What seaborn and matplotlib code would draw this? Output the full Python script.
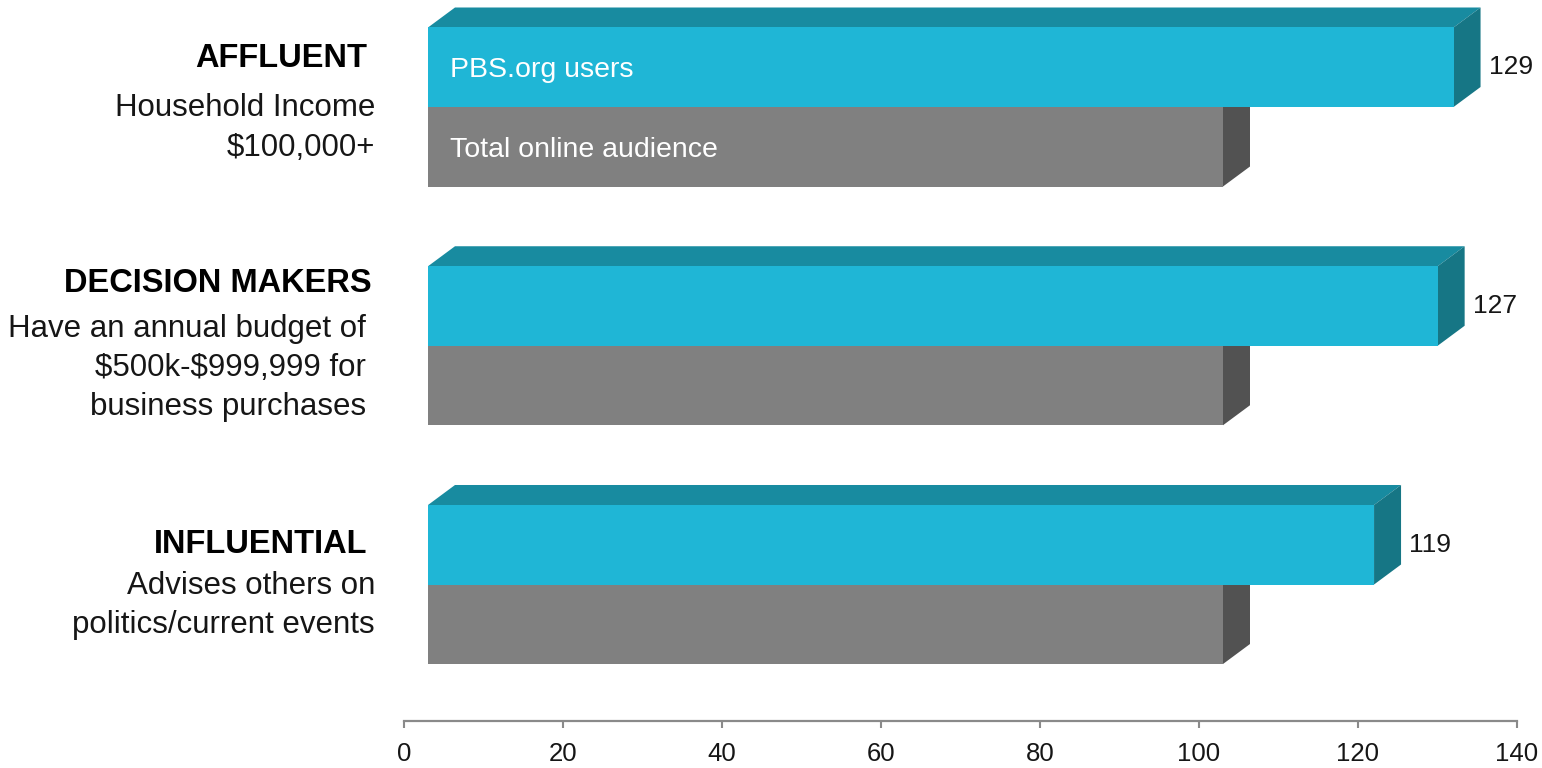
import matplotlib
matplotlib.use("Agg")
import matplotlib.pyplot as plt
import seaborn as sns
import pandas as pd
from matplotlib.patches import Polygon
from matplotlib.colors import to_rgba

# ---- data -------------------------------------------------------------
segments = ["AFFLUENT", "DECISION MAKERS", "INFLUENTIAL"]
segment_notes = [
    ["Household Income", "$100,000+"],
    ["Have an annual budget of", "$500k-$999,999 for", "business purchases"],
    ["Advises others on", "politics/current events"],
]
series = ["PBS.org users", "Total online audience"]
pbs_index = [129, 127, 119]
total_index = [100, 100, 100]
x_ticks = [0, 20, 40, 60, 80, 100, 120, 140]

# ---- style ------------------------------------------------------------
CYAN, CYAN_TOP, CYAN_SIDE = "#1FB6D6", "#188BA0", "#167685"
GRAY, GRAY_TOP, GRAY_SIDE = "#808080", "#6a6a6a", "#525252"
AXIS_GRAY = "#8a8a8a"
TEXT = "#161616"

sns.set_theme(style="ticks")
plt.rcParams["font.family"] = ["Liberation Sans", "DejaVu Sans"]

W, H = 1542, 768
fig = plt.figure(figsize=(W / 100, H / 100), dpi=100)
# axes spans x = 0..140 between px 404 and 1517, spine at px 721 from top
ax = fig.add_axes([404 / W, (H - 721) / H, (1517 - 404) / W, 721 / H])

df = pd.DataFrame({
    "segment": segments * 2,
    "series": [series[0]] * 3 + [series[1]] * 3,
    "value": pbs_index + total_index,
})

sns.barplot(data=df, y="segment", x="value", hue="series", order=segments,
            hue_order=series, palette=[CYAN, GRAY], saturation=1,
            width=0.666, orient="h", legend=False, ax=ax, linewidth=0)

PX_X = (1517 - 404) / 140.0     # pixels per value unit
PX_Y = 238.75                   # pixels per category step
ax.set_xlim(0, 140)
ax.set_ylim((721 - 107) / PX_Y, -107 / PX_Y)

BASE = 24 / PX_X                # front faces start slightly right of zero
DX = 27 / PX_X                  # 3-D depth, horizontal
DY = 20 / PX_Y                  # 3-D depth, vertical

cyan_rgba = to_rgba(CYAN)
bar_info = []
for rect in list(ax.patches):
    w = rect.get_width()
    if w <= 0:
        continue
    is_pbs = tuple(rect.get_facecolor()) == cyan_rgba
    rect.set_x(BASE)
    y_top = rect.get_y()
    y_bot = y_top + rect.get_height()
    x0, x1 = BASE, BASE + w
    z = 4 if is_pbs else 2
    rect.set_zorder(z)
    top_c, side_c = (CYAN_TOP, CYAN_SIDE) if is_pbs else (GRAY_TOP, GRAY_SIDE)
    ax.add_patch(Polygon([(x0, y_top), (x0 + DX, y_top - DY),
                          (x1 + DX, y_top - DY), (x1, y_top)],
                         closed=True, facecolor=top_c, edgecolor="none",
                         zorder=z - 0.5, clip_on=False))
    ax.add_patch(Polygon([(x1, y_top), (x1 + DX, y_top - DY),
                          (x1 + DX, y_bot - DY), (x1, y_bot)],
                         closed=True, facecolor=side_c, edgecolor="none",
                         zorder=z - 0.5, clip_on=False))
    bar_info.append((is_pbs, w, (y_top + y_bot) / 2))

# value labels for PBS.org bars and series names inside the first group
for is_pbs, w, yc in bar_info:
    if is_pbs:
        ax.text(BASE + w + DX + 8 / PX_X, yc, f"{w:.0f}",
                ha="left", va="center", fontsize=19, color=TEXT)

first_cyan = min(yc for p, _, yc in bar_info if p)
first_gray = min(yc for p, _, yc in bar_info if not p)
ax.text(BASE + 22 / PX_X, first_cyan + 3 / PX_Y, series[0], color="white",
        fontsize=20.5, ha="left", va="center", zorder=6)
ax.text(BASE + 22 / PX_X, first_gray + 3 / PX_Y, series[1], color="white",
        fontsize=20.5, ha="left", va="center", zorder=6)

# segment headings and descriptions on the left (offsets in px from group centre)
HEAD_RIGHT = [367, 372, 367]
NOTE_RIGHT = [375, 366, 375]
HEAD_OFFSET = [-48.5, -62, -40]
NOTE_OFFSET = [1.5, -16.5, 1]
LINE_GAP = 39
for i, (name, notes) in enumerate(zip(segments, segment_notes)):
    ax.text((HEAD_RIGHT[i] - 404) / PX_X, i + HEAD_OFFSET[i] / PX_Y, name,
            ha="right", va="center", fontsize=23.5, fontweight="bold",
            color="black", clip_on=False)
    for j, line in enumerate(notes):
        ly = i + (NOTE_OFFSET[i] + LINE_GAP * j) / PX_Y
        ax.text((NOTE_RIGHT[i] - 404) / PX_X, ly, line, ha="right",
                va="center", fontsize=22.5, color=TEXT, clip_on=False,
                parse_math=False)

# axis styling
ax.set_xticks(x_ticks)
ax.set_yticks([])
ax.set_xlabel("")
ax.set_ylabel("")
for side in ("left", "top", "right"):
    ax.spines[side].set_visible(False)
ax.spines["bottom"].set_color(AXIS_GRAY)
ax.spines["bottom"].set_linewidth(1.6)
ax.tick_params(axis="x", direction="out", length=5, width=1.5,
               color=AXIS_GRAY, labelsize=18.5, pad=10, labelcolor=TEXT)
ax.patch.set_alpha(0)

fig.savefig("out.png", dpi=100)
